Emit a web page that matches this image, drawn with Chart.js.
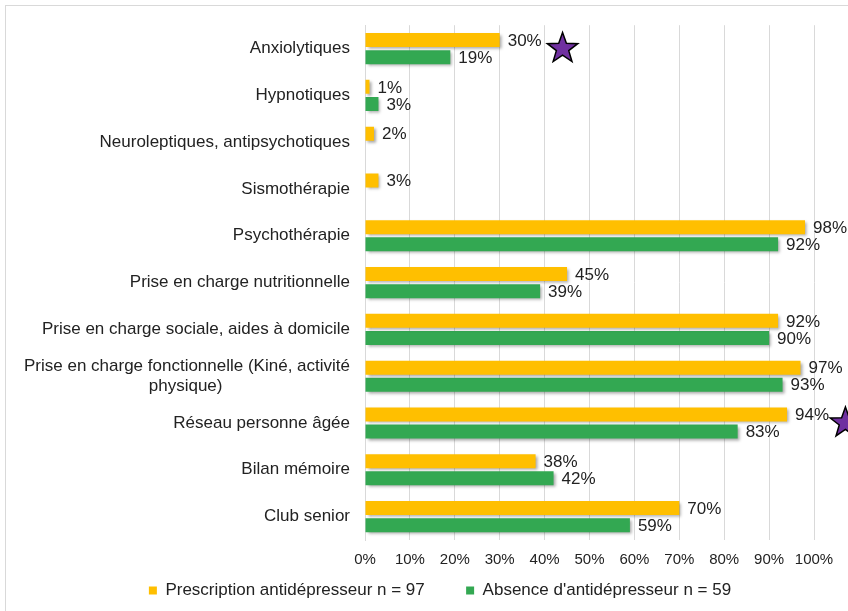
<!DOCTYPE html>
<html lang="fr">
<head>
  <meta charset="UTF-8" />
  <title>Prises en charge associées</title>
  <script src="https://cdn.jsdelivr.net/npm/chart.js"></script>
  <style>
    body {
      margin: 0;
      background-color: #ffffff;
      overflow: hidden;
    }
    #wrap {
      position: relative;
      width: 848px;
      height: 611px;
    }
  </style>
</head>
<body>
  <div id="wrap"><canvas id="chart"></canvas></div>

  <script>
    const categories = [
      "Anxiolytiques",
      "Hypnotiques",
      "Neuroleptiques, antipsychotiques",
      "Sismothérapie",
      "Psychothérapie",
      "Prise en charge nutritionnelle",
      "Prise en charge sociale, aides à domicile",
      ["Prise en charge fonctionnelle (Kiné, activité", "physique)" + " ".repeat(27)],
      "Réseau personne âgée",
      "Bilan mémoire",
      "Club senior"
    ];
    const prescription = [30, 1, 2, 3, 98, 45, 92, 97, 94, 38, 70];
    const absence = [19, 3, null, null, 92, 39, 90, 93, 83, 42, 59];
    const seriesNames = ["Prescription antidépresseur n = 97" + " ".repeat(6), "Absence d'antidépresseur n = 59"];
    // étoiles : index de catégorie, position en %
    const stars = [
      { index: 0, value: 44 },
      { index: 8, value: 107 }
    ];

    const police = "'Liberation Sans', Arial, sans-serif";

    const decor = {
      id: "decor",
      afterLayout(chart) {
        // laisse les libellés longs déborder à gauche sans être coupés
        chart.scales.y.left = 0;
      },
      beforeDraw(chart) {
        const ctx = chart.ctx;
        ctx.save();
        ctx.strokeStyle = "#d9d9d9";
        ctx.lineWidth = 1;
        ctx.strokeRect(5.5, 5.5, 900, 700);
        ctx.restore();
      },
      beforeDatasetsDraw(chart) {
        const ctx = chart.ctx;
        ctx.save();
        ctx.shadowColor = "rgba(0,0,0,0.35)";
        ctx.shadowOffsetX = 2;
        ctx.shadowOffsetY = 2;
        ctx.shadowBlur = 3;
      },
      afterDatasetsDraw(chart) {
        const ctx = chart.ctx;
        ctx.restore();
        ctx.save();
        ctx.font = "17px " + police;
        ctx.fillStyle = "#222";
        ctx.textBaseline = "middle";
        ctx.textAlign = "left";
        chart.data.datasets.forEach((ds, d) => {
          const meta = chart.getDatasetMeta(d);
          meta.data.forEach((bar, i) => {
            const v = ds.data[i];
            if (v === null) return;
            ctx.fillText(v + "%", bar.x + 8, bar.y + 1);
          });
        });
        // étoiles
        const xs = chart.scales.x, ys = chart.scales.y;
        stars.forEach(s => {
          const cx = xs.getPixelForValue(s.value);
          const cy = ys.getPixelForValue(s.index);
          const R = 16, r = 6.5;
          ctx.beginPath();
          for (let k = 0; k < 10; k++) {
            const rad = k % 2 === 0 ? R : r;
            const a = -Math.PI / 2 + k * Math.PI / 5;
            const px = cx + rad * Math.cos(a);
            const py = cy + rad * Math.sin(a);
            if (k === 0) ctx.moveTo(px, py); else ctx.lineTo(px, py);
          }
          ctx.closePath();
          ctx.fillStyle = "#7030A0";
          ctx.fill();
          ctx.strokeStyle = "#000";
          ctx.lineWidth = 1.5;
          ctx.stroke();
        });
        ctx.restore();
      }
    };

    new Chart(document.getElementById("chart"), {
      type: "bar",
      data: {
        labels: categories,
        datasets: [
          {
            label: seriesNames[0],
            data: prescription,
            backgroundColor: "#FFBF00",
            barPercentage: 0.82,
            categoryPercentage: 0.73
          },
          {
            label: seriesNames[1],
            data: absence,
            backgroundColor: "#33A852",
            barPercentage: 0.82,
            categoryPercentage: 0.73
          }
        ]
      },
      options: {
        indexAxis: "y",
        responsive: true,
        maintainAspectRatio: false,
        animation: false,
        layout: { padding: { top: 22, right: 34, left: 66, bottom: 2 } },
        plugins: {
          title: { display: false },
          tooltip: { enabled: false },
          legend: {
            position: "bottom",
            labels: {
              boxWidth: 8,
              boxHeight: 8,
              padding: 13,
              color: "#222",
              font: { family: police, size: 17 }
            }
          }
        },
        scales: {
          x: {
            min: 0,
            max: 100,
            afterFit: scale => { scale.height = 29; },
            ticks: {
              stepSize: 10,
              color: "#222",
              padding: 11,
              font: { family: police, size: 15 },
              callback: v => v + "%"
            },
            grid: { color: "#d9d9d9", drawTicks: false },
            border: { display: false }
          },
          y: {
            afterFit: scale => { scale.width = 299; },
            ticks: {
              color: "#222",
              padding: 15,
              font: { family: police, size: 17 }
            },
            grid: { display: false, drawTicks: false },
            border: { display: true, color: "#d9d9d9" }
          }
        }
      },
      plugins: [decor]
    });
  </script>
</body>
</html>
